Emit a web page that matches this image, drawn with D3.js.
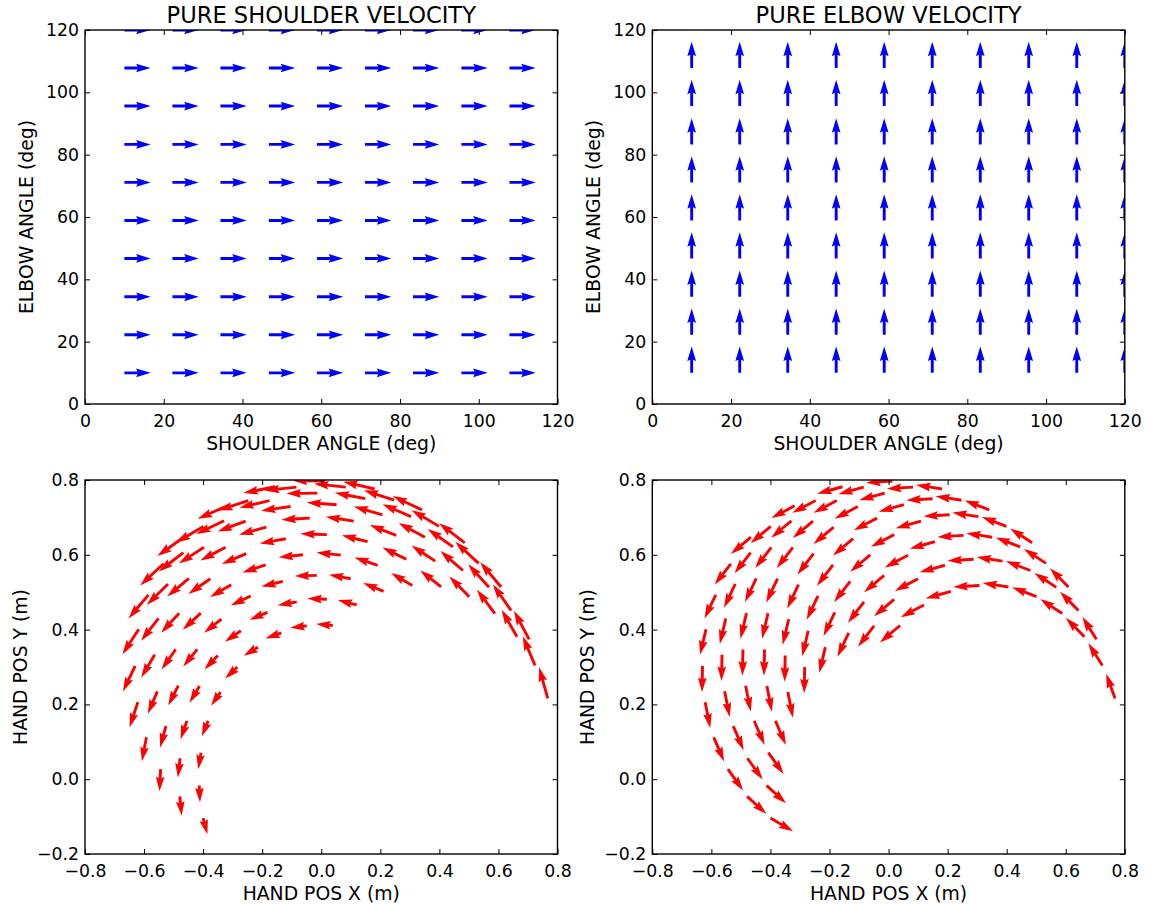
<!DOCTYPE html>
<html>
<head>
<meta charset="utf-8">
<script src="https://cdn.jsdelivr.net/npm/d3@7"></script>
<style>
  body { margin: 0; background: #fff; }
  svg text { font-family: "DejaVu Sans", sans-serif; fill: #000; }
</style>
</head>
<body>
<svg id="fig" width="1152" height="905"></svg>
<script>
"use strict";

// joint angle grid (deg), same for shoulder and elbow
var jointAngles = [10, 22.2, 34.4, 46.7, 58.9, 71.1, 83.3, 95.6, 107.8, 120];
var shoulderDir = [1, 0];
var elbowDir = [0, 1];

var panelTitles = ["PURE SHOULDER VELOCITY", "PURE ELBOW VELOCITY"];
var angleTicks = [0, 20, 40, 60, 80, 100, 120];
var handXTicks = [-0.8, -0.6, -0.4, -0.2, 0, 0.2, 0.4, 0.6, 0.8];
var handYTicks = [-0.2, 0, 0.2, 0.4, 0.6, 0.8];

// hand positions, rows = elbow angle, cols = shoulder angle
var handX = [
  [0.767, 0.704, 0.609, 0.486, 0.341, 0.181, 0.013, -0.156, -0.318, -0.466],
  [0.724, 0.643, 0.533, 0.399, 0.247, 0.083, -0.084, -0.247, -0.399, -0.534],
  [0.663, 0.568, 0.446, 0.304, 0.149, -0.013, -0.175, -0.329, -0.467, -0.585],
  [0.588, 0.48, 0.351, 0.207, 0.052, -0.104, -0.256, -0.397, -0.519, -0.618],
  [0.501, 0.386, 0.254, 0.11, -0.039, -0.186, -0.324, -0.448, -0.551, -0.63],
  [0.406, 0.288, 0.157, 0.019, -0.12, -0.254, -0.376, -0.481, -0.564, -0.621],
  [0.308, 0.191, 0.066, -0.062, -0.188, -0.305, -0.408, -0.493, -0.555, -0.592],
  [0.211, 0.1, -0.015, -0.13, -0.239, -0.338, -0.42, -0.484, -0.526, -0.544],
  [0.12, 0.019, -0.083, -0.182, -0.272, -0.35, -0.412, -0.455, -0.478, -0.479],
  [0.039, -0.049, -0.135, -0.214, -0.284, -0.341, -0.383, -0.407, -0.413, -0.4],
];
var handY = [
  [0.216, 0.374, 0.514, 0.632, 0.72, 0.776, 0.797, 0.782, 0.731, 0.647],
  [0.304, 0.451, 0.577, 0.676, 0.746, 0.781, 0.781, 0.745, 0.676, 0.576],
  [0.381, 0.513, 0.621, 0.702, 0.75, 0.765, 0.745, 0.691, 0.606, 0.493],
  [0.443, 0.558, 0.647, 0.707, 0.734, 0.729, 0.69, 0.62, 0.522, 0.401],
  [0.488, 0.583, 0.652, 0.69, 0.698, 0.674, 0.62, 0.537, 0.43, 0.303],
  [0.514, 0.588, 0.635, 0.654, 0.643, 0.603, 0.536, 0.444, 0.333, 0.206],
  [0.518, 0.572, 0.599, 0.6, 0.573, 0.52, 0.444, 0.347, 0.235, 0.112],
  [0.502, 0.536, 0.545, 0.529, 0.49, 0.428, 0.347, 0.25, 0.142, 0.027],
  [0.466, 0.481, 0.474, 0.446, 0.397, 0.331, 0.249, 0.156, 0.056, -0.046],
  [0.411, 0.41, 0.391, 0.353, 0.3, 0.233, 0.156, 0.071, -0.017, -0.104],
];

// hand velocity for pure shoulder rotation
var shoulderVelX = [
  [-0.216, -0.374, -0.514, -0.632, -0.72, -0.776, -0.797, -0.782, -0.731, -0.647],
  [-0.304, -0.451, -0.577, -0.676, -0.746, -0.781, -0.781, -0.745, -0.676, -0.576],
  [-0.381, -0.513, -0.621, -0.702, -0.75, -0.765, -0.745, -0.691, -0.606, -0.493],
  [-0.443, -0.558, -0.647, -0.707, -0.734, -0.729, -0.69, -0.62, -0.522, -0.401],
  [-0.488, -0.583, -0.652, -0.69, -0.698, -0.674, -0.62, -0.537, -0.43, -0.303],
  [-0.514, -0.588, -0.635, -0.654, -0.643, -0.603, -0.536, -0.444, -0.333, -0.206],
  [-0.518, -0.572, -0.599, -0.6, -0.573, -0.52, -0.444, -0.347, -0.235, -0.112],
  [-0.502, -0.536, -0.545, -0.529, -0.49, -0.428, -0.347, -0.25, -0.142, -0.027],
  [-0.466, -0.481, -0.474, -0.446, -0.397, -0.331, -0.249, -0.156, -0.056, 0.046],
  [-0.411, -0.41, -0.391, -0.353, -0.3, -0.233, -0.156, -0.071, 0.017, 0.104],
];
var shoulderVelY = [
  [0.767, 0.704, 0.609, 0.486, 0.341, 0.181, 0.013, -0.156, -0.318, -0.466],
  [0.724, 0.643, 0.533, 0.399, 0.247, 0.083, -0.084, -0.247, -0.399, -0.534],
  [0.663, 0.568, 0.446, 0.304, 0.149, -0.013, -0.175, -0.329, -0.467, -0.585],
  [0.588, 0.48, 0.351, 0.207, 0.052, -0.104, -0.256, -0.397, -0.519, -0.618],
  [0.501, 0.386, 0.254, 0.11, -0.039, -0.186, -0.324, -0.448, -0.551, -0.63],
  [0.406, 0.288, 0.157, 0.019, -0.12, -0.254, -0.376, -0.481, -0.564, -0.621],
  [0.308, 0.191, 0.066, -0.062, -0.188, -0.305, -0.408, -0.493, -0.555, -0.592],
  [0.211, 0.1, -0.015, -0.13, -0.239, -0.338, -0.42, -0.484, -0.526, -0.544],
  [0.12, 0.019, -0.083, -0.182, -0.272, -0.35, -0.412, -0.455, -0.478, -0.479],
  [0.039, -0.049, -0.135, -0.214, -0.284, -0.341, -0.383, -0.407, -0.413, -0.4],
];

// hand velocity for pure elbow rotation
var elbowVelX = [
  [-0.157, -0.245, -0.322, -0.384, -0.429, -0.454, -0.459, -0.443, -0.407, -0.352],
  [-0.245, -0.322, -0.384, -0.429, -0.454, -0.459, -0.443, -0.407, -0.352, -0.282],
  [-0.322, -0.384, -0.429, -0.454, -0.459, -0.443, -0.407, -0.352, -0.282, -0.198],
  [-0.384, -0.429, -0.454, -0.459, -0.443, -0.407, -0.352, -0.282, -0.198, -0.106],
  [-0.429, -0.454, -0.459, -0.443, -0.407, -0.352, -0.282, -0.198, -0.106, -0.009],
  [-0.454, -0.459, -0.443, -0.407, -0.352, -0.282, -0.198, -0.106, -0.009, 0.089],
  [-0.459, -0.443, -0.407, -0.352, -0.282, -0.198, -0.106, -0.009, 0.089, 0.182],
  [-0.443, -0.407, -0.352, -0.282, -0.198, -0.106, -0.009, 0.089, 0.182, 0.267],
  [-0.407, -0.352, -0.282, -0.198, -0.106, -0.009, 0.089, 0.182, 0.267, 0.341],
  [-0.352, -0.282, -0.198, -0.106, -0.009, 0.089, 0.182, 0.267, 0.341, 0.398],
];
var elbowVelY = [
  [0.432, 0.389, 0.328, 0.253, 0.166, 0.071, -0.027, -0.123, -0.214, -0.296],
  [0.389, 0.328, 0.253, 0.166, 0.071, -0.027, -0.123, -0.214, -0.296, -0.364],
  [0.328, 0.253, 0.166, 0.071, -0.027, -0.123, -0.214, -0.296, -0.364, -0.415],
  [0.253, 0.166, 0.071, -0.027, -0.123, -0.214, -0.296, -0.364, -0.415, -0.448],
  [0.166, 0.071, -0.027, -0.123, -0.214, -0.296, -0.364, -0.415, -0.448, -0.46],
  [0.071, -0.027, -0.123, -0.214, -0.296, -0.364, -0.415, -0.448, -0.46, -0.451],
  [-0.027, -0.123, -0.214, -0.296, -0.364, -0.415, -0.448, -0.46, -0.451, -0.422],
  [-0.123, -0.214, -0.296, -0.364, -0.415, -0.448, -0.46, -0.451, -0.422, -0.374],
  [-0.214, -0.296, -0.364, -0.415, -0.448, -0.46, -0.451, -0.422, -0.374, -0.309],
  [-0.296, -0.364, -0.415, -0.448, -0.46, -0.451, -0.422, -0.374, -0.309, -0.23],
];

function gridArrows(dir) {
  var out = [];
  jointAngles.forEach((e) => {
    jointAngles.forEach((s) => out.push({ x: s, y: e, u: dir[0], v: dir[1] }));
  });
  return out;
}

function handArrows(velX, velY) {
  var out = [];
  handX.forEach((row, j) => {
    row.forEach((hx, i) =>
      out.push({ x: hx, y: handY[j][i], u: velX[j][i], v: velY[j][i] })
    );
  });
  return out;
}

var fmtAngle = d3.format("d"),
  fmtPos = d3.format(".1f");

var panels = [
  {
    left: 85, top: 30, title: panelTitles[0], color: "#0000ff",
    xDomain: [0, 120], yDomain: [0, 120], xTicks: angleTicks, yTicks: angleTicks, fmt: fmtAngle,
    xLabel: "SHOULDER ANGLE (deg)", yLabel: "ELBOW ANGLE (deg)", yLabelX: -52,
    arrows: gridArrows(shoulderDir),
  },
  {
    left: 652.3, top: 30, title: panelTitles[1], color: "#0000ff",
    xDomain: [0, 120], yDomain: [0, 120], xTicks: angleTicks, yTicks: angleTicks, fmt: fmtAngle,
    xLabel: "SHOULDER ANGLE (deg)", yLabel: "ELBOW ANGLE (deg)", yLabelX: -52,
    arrows: gridArrows(elbowDir),
  },
  {
    left: 85, top: 480, title: null, color: "#ff0000",
    xDomain: [-0.8, 0.8], yDomain: [-0.2, 0.8], xTicks: handXTicks, yTicks: handYTicks, fmt: fmtPos,
    xLabel: "HAND POS X (m)", yLabel: "HAND POS Y (m)", yLabelX: -58,
    arrows: handArrows(shoulderVelX, shoulderVelY),
  },
  {
    left: 652.3, top: 480, title: null, color: "#ff0000",
    xDomain: [-0.8, 0.8], yDomain: [-0.2, 0.8], xTicks: handXTicks, yTicks: handYTicks, fmt: fmtPos,
    xLabel: "HAND POS X (m)", yLabel: "HAND POS Y (m)", yLabelX: -58,
    arrows: handArrows(elbowVelX, elbowVelY),
  },
];

function quiverPanel() {
  var width = 472.5,
    height = 374,
    shaft = 2.9, // arrow shaft width in px, head sizes are multiples of it
    tickFont = 17.3,
    labelFont = 18.8,
    titleFont = 22.6,
    arrowLine = d3.line();

  // matplotlib style arrow, in shaft-width units, pointing along +x
  function arrowPoints(L) {
    return [[0, 0.5], [L - 4.5, 0.5], [L - 5, 1.5], [L, 0], [L - 5, -1.5], [L - 4.5, -0.5], [0, -0.5]];
  }

  function styleAxis(g) {
    g.select(".domain").remove();
    g.selectAll(".tick line").attr("stroke", "#000").attr("stroke-width", 1);
    g.selectAll("text").attr("font-size", tickFont).attr("font-family", "DejaVu Sans").attr("fill", "#000");
    g.attr("font-family", null).attr("font-size", null);
  }

  function chart(selection) {
    selection.each(function (p, idx) {
      var g = d3.select(this).attr("transform", `translate(${p.left},${p.top})`);
      var x = d3.scaleLinear().domain(p.xDomain).range([0, width]);
      var y = d3.scaleLinear().domain(p.yDomain).range([height, 0]);

      // quiver autoscale: mean arrow is width / 18 px long
      var mags = p.arrows.map((d) => Math.hypot(d.u, d.v));
      var len = d3.scaleLinear().domain([0, d3.mean(mags)]).range([0, width / 18]);

      g.append("clipPath")
        .attr("id", "clip" + idx)
        .append("rect")
        .attr("width", width)
        .attr("height", height);

      g.append("g")
        .attr("clip-path", `url(#clip${idx})`)
        .selectAll("path")
        .data(p.arrows)
        .enter()
        .append("path")
        .attr("fill", p.color)
        .attr("d", (d) => arrowLine(arrowPoints(len(Math.hypot(d.u, d.v)) / shaft)) + "Z")
        .attr("transform", (d) => {
          var ang = (Math.atan2(-d.v, d.u) * 180) / Math.PI;
          return `translate(${x(d.x)},${y(d.y)}) rotate(${ang}) scale(${shaft})`;
        });

      // inward ticks on all four sides
      g.append("g")
        .attr("transform", `translate(0,${height})`)
        .call(d3.axisBottom(x).tickValues(p.xTicks).tickFormat(p.fmt).tickSizeInner(-5).tickSizeOuter(0).tickPadding(11))
        .call(styleAxis);
      g.append("g")
        .call(d3.axisLeft(y).tickValues(p.yTicks).tickFormat(p.fmt).tickSizeInner(-5).tickSizeOuter(0).tickPadding(6))
        .call(styleAxis);
      g.append("g")
        .call(d3.axisTop(x).tickValues(p.xTicks).tickFormat("").tickSizeInner(-5).tickSizeOuter(0))
        .call(styleAxis);
      g.append("g")
        .attr("transform", `translate(${width},0)`)
        .call(d3.axisRight(y).tickValues(p.yTicks).tickFormat("").tickSizeInner(-5).tickSizeOuter(0))
        .call(styleAxis);

      g.append("rect")
        .attr("width", width)
        .attr("height", height)
        .attr("fill", "none")
        .attr("stroke", "#000")
        .attr("stroke-width", 1.4);

      if (p.title) {
        g.append("text")
          .attr("x", width / 2)
          .attr("y", -7)
          .attr("text-anchor", "middle")
          .attr("font-size", titleFont)
          .text(p.title);
      }

      g.append("text")
        .attr("x", width / 2)
        .attr("y", height + 46)
        .attr("text-anchor", "middle")
        .attr("font-size", labelFont)
        .text(p.xLabel);

      g.append("text")
        .attr("transform", `translate(${p.yLabelX},${height / 2}) rotate(-90)`)
        .attr("text-anchor", "middle")
        .attr("font-size", labelFont)
        .text(p.yLabel);
    });
  }

  return chart;
}

var panelChart = quiverPanel();

d3.select("#fig")
  .selectAll(".panel")
  .data(panels)
  .enter()
  .append("g")
  .attr("class", "panel")
  .call(panelChart);
</script>
</body>
</html>
